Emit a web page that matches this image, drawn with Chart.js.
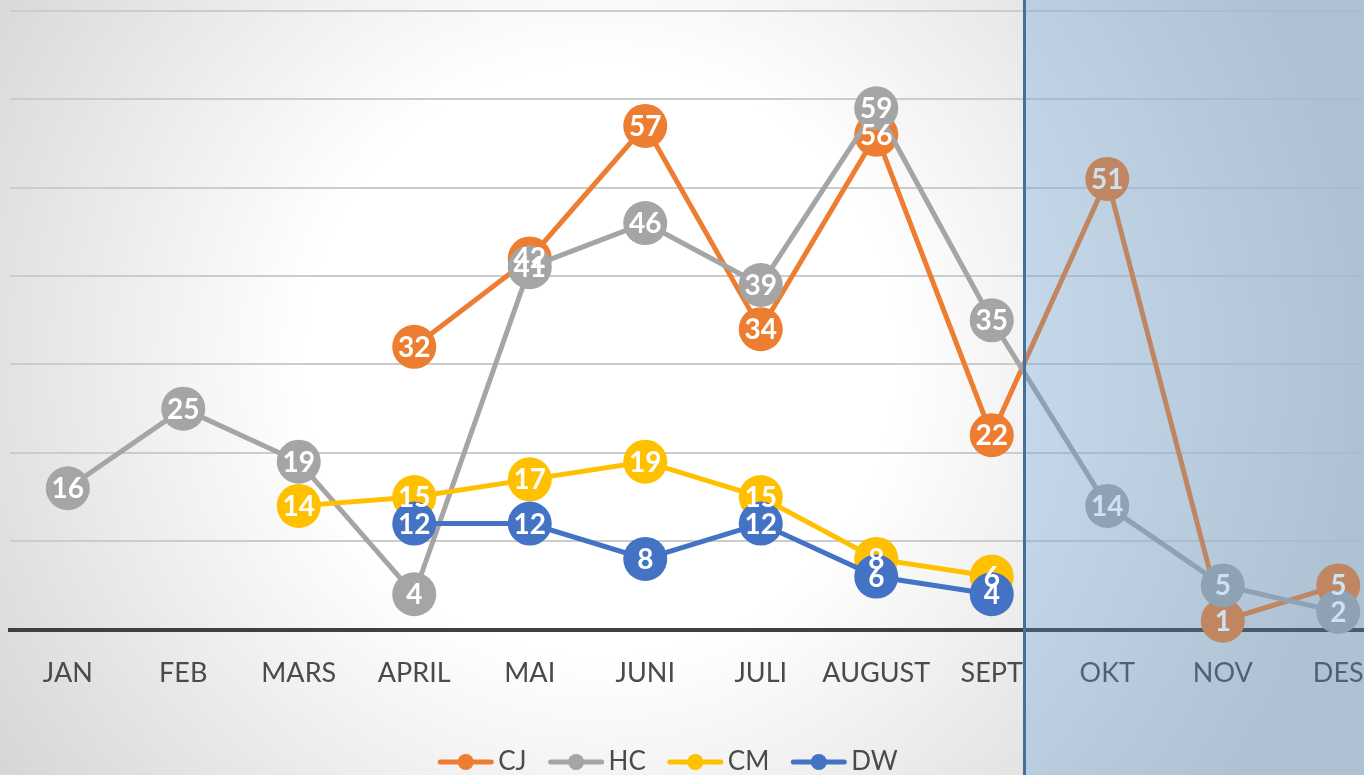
<!DOCTYPE html>
<html>
<head>
<meta charset="utf-8">
<script src="https://cdn.jsdelivr.net/npm/chart.js@4.4.1/dist/chart.umd.min.js"></script>
<style>
  html, body { margin: 0; padding: 0; overflow: hidden; background: #ffffff; }
  #wrap { width: 1364px; height: 775px; overflow: hidden; }
  #lineChart { margin-left: -12px; margin-top: -11px; display: block; }
</style>
</head>
<body>
<div id="wrap"><canvas id="lineChart" width="1430" height="786"></canvas></div>
<script>
// Data
const months = ["JAN", "FEB", "MARS", "APRIL", "MAI", "JUNI", "JULI", "AUGUST", "SEPT", "OKT", "NOV", "DES"];
const cjValues = [null, null, null, 32, 42, 57, 34, 56, 22, 51, 1, 5];
const hcValues = [16, 25, 19, 4, 41, 46, 39, 59, 35, 14, 5, 2];
const cmValues = [null, null, 14, 15, 17, 19, 15, 8, 6, null, null, null];
const dwValues = [null, null, null, 12, 12, 8, 12, 6, 4, null, null, null];
const seriesNames = ["CJ", "HC", "CM", "DW"];
const seriesColors = ["#ED7D31", "#A5A5A5", "#FFC000", "#4472C4"];
const yTicks = { min: 0, max: 70, step: 10 };

const labelFont = "Lato, 'Open Sans', sans-serif";
const textColor = "#4a4a4a";
const shiftX = 12; // canvas is moved left by this much
const shiftY = 11; // and up by this much

// Build one line dataset
function makeSeries(i, values) {
  return {
    label: seriesNames[i],
    data: values,
    borderColor: seriesColors[i],
    backgroundColor: seriesColors[i],
    borderWidth: 5,
    pointRadius: 22,
    pointHoverRadius: 22,
    pointBorderWidth: 0,
    pointBackgroundColor: seriesColors[i],
    tension: 0,
    clip: false,
    order: 4 - i,
  };
}

// Radial grey background
const backgroundPlugin = {
  id: "background",
  beforeDraw(chart) {
    const ctx = chart.ctx;
    const cx = 600 + shiftX, cy = 360 + shiftY;
    const g = ctx.createRadialGradient(cx, cy, 0, cx, cy, 760);
    g.addColorStop(0, "#ffffff");
    g.addColorStop(0.39, "#ffffff");
    g.addColorStop(1, "#d3d3d3");
    ctx.save();
    ctx.fillStyle = g;
    ctx.fillRect(0, 0, chart.width, chart.height);
    ctx.restore();
  },
};

// White numbers inside the markers
const valueLabelPlugin = {
  id: "valueLabels",
  afterDatasetsDraw(chart) {
    const ctx = chart.ctx;
    ctx.save();
    ctx.font = "bold 28px " + labelFont;
    ctx.fillStyle = "#ffffff";
    ctx.textAlign = "center";
    ctx.textBaseline = "middle";
    chart.data.datasets.forEach((ds, i) => {
      const meta = chart.getDatasetMeta(i);
      meta.data.forEach((pt, j) => {
        if (ds.data[j] === null) return;
        ctx.fillText(String(ds.data[j]), pt.x, pt.y + 1);
      });
    });
    ctx.restore();
  },
};

// Blue forecast band after SEPT + legend
const overlayPlugin = {
  id: "overlay",
  afterDraw(chart) {
    const ctx = chart.ctx;
    const xs = chart.scales.x;
    const a = xs.getPixelForValue(8);
    const b = xs.getPixelForValue(9);
    const x0 = Math.round(a + (b - a) * 0.275);
    ctx.save();
    ctx.fillStyle = "rgba(91, 155, 213, 0.3)";
    ctx.fillRect(x0, 0, chart.width - x0, chart.height);
    ctx.fillStyle = "#41719C";
    ctx.fillRect(x0 - 1, 0, 3, chart.height);

    // legend
    ctx.font = "26px " + labelFont;
    ctx.textBaseline = "middle";
    const symW = 55, gapText = 5, gapItem = 22;
    const widths = seriesNames.map((n) => ctx.measureText(n).width);
    let total = 0;
    widths.forEach((w, i) => {
      total += symW + gapText + w + (i < widths.length - 1 ? gapItem : 0);
    });
    let x = 668 + shiftX - total / 2;
    const y = 762 + shiftY;
    seriesNames.forEach((name, i) => {
      ctx.strokeStyle = seriesColors[i];
      ctx.lineWidth = 5;
      ctx.lineCap = "round";
      ctx.beginPath();
      ctx.moveTo(x + 2, y);
      ctx.lineTo(x + symW - 2, y);
      ctx.stroke();
      ctx.fillStyle = seriesColors[i];
      ctx.beginPath();
      ctx.arc(x + symW / 2, y, 8, 0, Math.PI * 2);
      ctx.fill();
      ctx.fillStyle = textColor;
      ctx.textAlign = "left";
      ctx.fillText(name, x + symW + gapText, y);
      x += symW + gapText + widths[i] + gapItem;
    });
    ctx.restore();
  },
};

const ctx = document.getElementById("lineChart").getContext("2d");

new Chart(ctx, {
  type: "line",
  data: {
    labels: months,
    datasets: [
      makeSeries(0, cjValues),
      makeSeries(1, hcValues),
      makeSeries(2, cmValues),
      makeSeries(3, dwValues),
    ],
  },
  options: {
    responsive: false,
    animation: false,
    layout: { padding: { left: 10, right: 4, top: 0, bottom: 67 } },
    plugins: {
      legend: { display: false },
      tooltip: { enabled: false },
    },
    scales: {
      x: {
        offset: true,
        grid: { display: false },
        border: { display: true, color: "#404040", width: 4 },
        ticks: {
          color: textColor,
          font: { family: labelFont, size: 27 },
          padding: 19,
          maxRotation: 0,
          autoSkip: false,
        },
      },
      y: {
        min: yTicks.min,
        max: yTicks.max,
        grid: { color: "#cccccc", lineWidth: 2, drawTicks: false },
        border: { display: false },
        ticks: { display: false, stepSize: yTicks.step },
      },
    },
  },
  plugins: [backgroundPlugin, valueLabelPlugin, overlayPlugin],
});
</script>
</body>
</html>
